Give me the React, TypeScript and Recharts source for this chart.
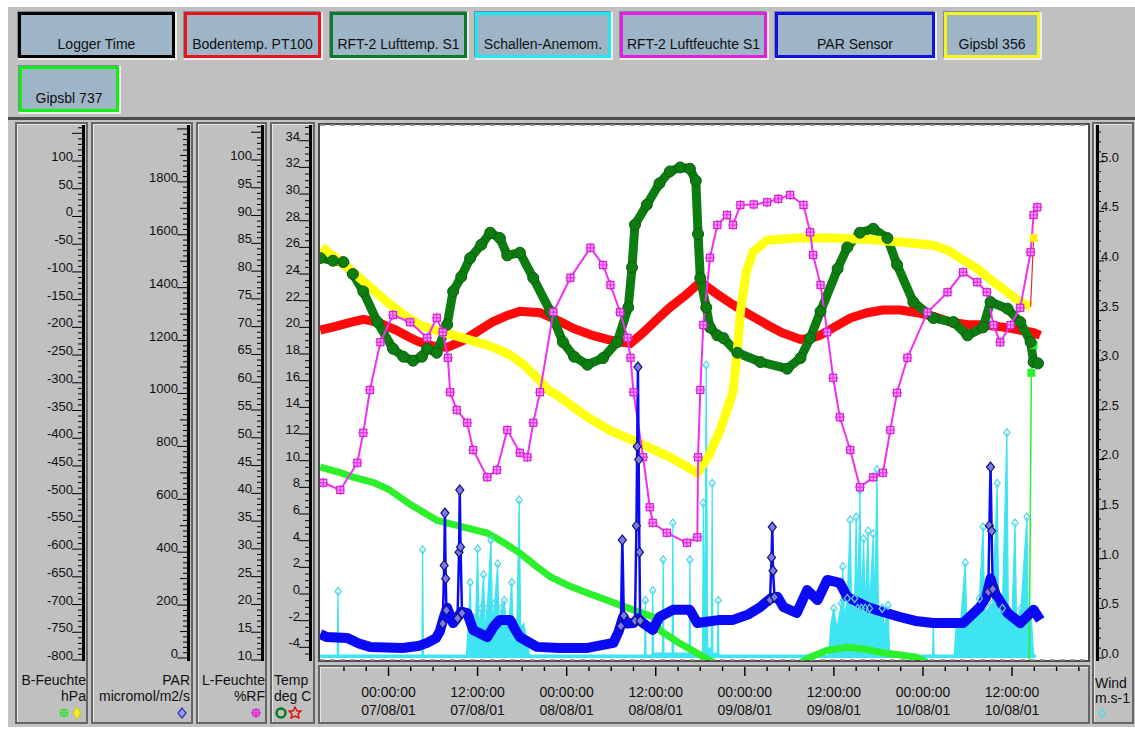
import React from 'react';
import { ComposedChart, Line, Area, XAxis, YAxis, CartesianGrid } from 'recharts';

const FONT = '"Liberation Sans", Arial, Helvetica, sans-serif';

type Pt = [number, number | null];

// x values are hours after 07/08/01 00:00:00
const xMajor = [0, 12, 24, 36, 48, 60, 72, 84];
const xTimes = ['00:00:00', '12:00:00', '00:00:00', '12:00:00', '00:00:00', '12:00:00', '00:00:00', '12:00:00'];
const xDates = ['07/08/01', '07/08/01', '08/08/01', '08/08/01', '09/08/01', '09/08/01', '10/08/01', '10/08/01'];

const bLabels = [100, 50, 0, -50, -100, -150, -200, -250, -300, -350, -400, -450, -500, -550, -600, -650, -700, -750, -800];
const parLabels = [0, 200, 400, 600, 800, 1000, 1200, 1400, 1600, 1800];
const rfLabels = [10, 15, 20, 25, 30, 35, 40, 45, 50, 55, 60, 65, 70, 75, 80, 85, 90, 95, 100];
const tempLabels = [-4, -2, 0, 2, 4, 6, 8, 10, 12, 14, 16, 18, 20, 22, 24, 26, 28, 30, 32, 34];
const windLabels = [0, 0.5, 1, 1.5, 2, 2.5, 3, 3.5, 4, 4.5, 5];

const buttons = [
  { label: 'Logger Time', color: '#000000' },
  { label: 'Bodentemp. PT100', color: '#e8141c' },
  { label: 'RFT-2 Lufttemp. S1', color: '#0a7a2a' },
  { label: 'Schallen-Anemom.', color: '#20e8f0' },
  { label: 'RFT-2 Luftfeuchte S1', color: '#e020e0' },
  { label: 'PAR Sensor', color: '#1010e0' },
  { label: 'Gipsbl 356', color: '#f4f420' },
  { label: 'Gipsbl 737', color: '#10f010' },
];

// Bodentemp. PT100, deg C
const bodenTemp: Pt[] = [
  [-9.2, 19.8], [-7, 20.1], [-5, 20.4], [-3.4, 20.6], [-1.5, 20.4], [1, 19.8], [3, 19.2], [4.2, 18.9], [6, 18.6],
  [7.9, 18.5], [10, 19.0], [12, 19.7], [14, 20.4], [16, 20.9], [17.7, 21.2], [20.4, 21.1], [22.5, 20.6], [25, 19.9],
  [27.5, 19.4], [29.5, 19.1], [31.2, 18.9], [32.6, 18.8], [34.3, 19.6], [35.6, 20.3], [37.9, 21.5], [40, 22.4],
  [41.6, 23.2], [42.3, 23.3], [44, 22.6], [46.4, 21.7], [48.5, 21.0], [51, 20.2], [53, 19.6], [55.5, 19.1], [57, 19.2],
  [58.1, 19.4], [60, 20.0], [62.2, 20.7], [64.5, 21.1], [66.6, 21.3], [69, 21.3], [71.2, 21.1], [73.5, 20.8],
  [75.7, 20.4], [78, 20.2], [80.1, 20.2], [83, 20.0], [85, 19.8], [86.9, 19.6], [87.8, 19.4],
];

// RFT-2 Lufttemp. S1, deg C
const luftTemp: Pt[] = [
  [-9.2, 25.2], [-7.5, 25.0], [-6.1, 24.9], [-4.8, 24.0], [-3.4, 22.7], [-1.5, 20.4], [0.6, 18.4], [2.0, 17.8],
  [3.3, 17.5], [4.5, 17.8], [5.2, 18.4], [6.5, 18.1], [7.9, 20.2], [8.7, 22.7], [9.8, 23.8], [11.0, 25.2], [12.5, 26.2],
  [13.7, 27.1], [15.0, 26.7], [16.0, 25.4], [17.7, 25.6], [19.5, 23.7], [21.8, 21.2], [23.5, 18.9], [25.0, 17.8],
  [26.8, 17.2], [28.9, 17.7], [30.8, 18.9], [32.3, 21.5], [32.8, 24.5], [33.2, 27.7], [34.8, 29.2], [36.5, 30.8],
  [37.9, 31.7], [39.3, 32.0], [40.6, 31.9], [41.4, 31.0], [41.7, 27.0], [42.0, 23.7], [42.8, 21.5], [43.3, 20.0],
  [44.3, 19.4], [45.1, 19.2], [47.0, 18.1], [50.1, 17.4], [53.7, 16.9], [55.5, 17.7], [56.8, 19.2], [58.2, 21.2],
  [60.5, 24.4], [61.8, 26.0], [63.5, 27.1], [65.3, 27.4], [67.2, 26.7], [68.5, 24.7], [70.7, 21.9], [73.4, 20.7],
  [76.1, 20.4], [78.0, 19.4], [80.1, 20.0], [81.1, 21.9], [83.4, 21.4], [85.1, 20.4], [86.5, 18.9], [86.9, 17.4],
  [87.5, 17.3],
];

// Gipsbl 356, hPa
const gipsbl356: Pt[] = [
  [-9.0, -55], [-6.8, -78], [-4.8, -100], [-2.5, -127], [-0.2, -154], [2, -177], [4.2, -196], [6.5, -206],
  [8.7, -214], [11, -223], [13.3, -232], [15, -241], [16.4, -250], [18.3, -268], [20, -291], [21.5, -313],
  [22.7, -322], [24.5, -340], [26.8, -362], [30, -387], [33.5, -407], [35.8, -421], [37.9, -434], [40, -450],
  [41.6, -463], [43.2, -430], [44.7, -385], [45.7, -345], [46.4, -317], [47.0, -240], [47.4, -172], [48.2, -100],
  [49.1, -64], [51, -43], [55, -39], [59.9, -39], [65, -42], [68.9, -46], [73.4, -52], [75.5, -62], [77, -75],
  [79.5, -96], [81.5, -118], [83.5, -138], [85.1, -154], [86.5, -163],
];
// last reading of Gipsbl 356, after the jump
const gipsbl356Tail: Pt[] = [[86.5, -163], [86.9, -39]];

// Gipsbl 737, hPa
const gipsbl737: Pt[] = [
  [-9.2, -452], [-6.5, -462], [-4.8, -470], [-2, -480], [0, -492], [3, -520], [6.5, -548], [10, -560], [13.3, -571],
  [15.5, -588], [17.7, -607], [19.8, -630], [21.8, -650], [24.3, -666], [26.8, -679], [29, -690], [31.2, -701],
  [33.5, -712], [35.6, -722], [36.5, -746], [39, -768], [42, -791], [44, -806], [48, -830], [53, -825], [55.5, -805],
  [56.8, -795], [59, -783], [61.8, -777], [64, -780], [66.5, -787], [69, -791], [71.1, -795], [73, -808], [78, -830],
  [86.3, -830],
];
// last readings of Gipsbl 737, after the jump
const gipsbl737Tail: Pt[] = [[86.3, -830], [86.6, -282], [86.9, -232]];

// RFT-2 Luftfeuchte S1, %RF
const luftFeuchte: Pt[] = [
  [-8.8, 41.9], [-6.5, 40.6], [-4.2, 45.5], [-3.4, 50.9], [-2.5, 58.6], [-1.1, 67.2], [0.6, 72.1], [2.9, 70.8],
  [5.2, 68.0], [6.5, 71.6], [7.3, 69.0], [8.0, 64.4], [8.3, 58.2], [9.2, 55.0], [10.6, 52.7], [11.4, 47.8],
  [13.3, 42.9], [14.6, 44.2], [16.0, 51.4], [17.7, 47.3], [18.7, 46.5], [19.5, 52.7], [20.4, 58.2], [22.2, 72.6],
  [24.5, 78.8], [27.2, 84.2], [28.9, 81.1], [29.9, 77.5], [31.2, 72.6], [32.2, 68.0], [32.6, 64.4], [33.0, 58.2],
  [34.3, 46.5], [35.2, 37.5], [35.6, 34.7], [37.5, 32.9], [40.2, 31.1], [41.6, 32.1], [41.7, 46.5], [42.0, 58.6],
  [42.4, 70.3], [43.3, 82.4], [44.3, 88.3], [45.6, 90.1], [46.4, 88.3], [47.4, 91.9], [49.2, 92.0], [51.0, 92.4],
  [52.5, 93.0], [54.1, 93.7], [55.9, 91.9], [56.8, 87.0], [57.2, 82.9], [58.2, 77.5], [59.1, 69.0], [59.9, 60.8],
  [60.8, 53.7], [62.2, 47.8], [63.5, 41.1], [65.3, 42.9], [66.6, 43.7], [67.6, 51.4], [68.5, 58.1], [69.9, 64.4],
  [72.6, 72.6], [75.3, 76.2], [77.4, 79.8], [79.3, 78.0], [80.6, 76.2], [81.5, 70.3], [82.4, 67.2], [83.8, 70.3],
  [85.1, 73.4], [86.5, 83.4], [86.9, 90.1], [87.4, 91.5],
];

// PAR Sensor, micromol/m2/s (slowly varying part)
const parBand: Pt[] = [
  [-9.2, 90], [-8.3, 79], [-5.6, 76], [-4, 55], [-2.5, 42], [1.9, 38], [4, 45], [5.2, 57], [6.4, 75], [6.9, 100],
  [7.4, 150], [7.9, 190], [8.7, 132], [9.2, 150], [9.8, 175], [10.6, 170], [11.4, 106], [13.3, 79], [14.2, 120],
  [15, 144], [16.4, 144], [17.0, 110], [17.7, 79], [20, 42], [23, 38], [26.8, 38], [30.3, 57], [31.0, 100],
  [31.6, 155], [32.2, 130], [33, 132], [33.6, 150], [34.3, 132], [35.6, 106], [36.5, 155], [38.3, 182], [40.6, 182],
  [41.6, 132], [44.7, 144], [46.4, 144], [48.5, 165], [50.1, 193], [50.8, 210], [51.5, 225], [52.4, 231],
  [53.2, 193], [55, 170], [56.4, 257], [57.8, 219], [59.1, 295], [60.8, 284], [61.8, 231], [64.5, 193], [66.5, 175],
  [68.9, 155], [71, 140], [73.4, 132], [77.4, 132], [79.7, 193], [80.5, 230], [81.1, 300], [81.8, 240], [83.4, 170],
  [85.1, 132], [86.9, 182], [87.8, 144],
];

// PAR Sensor, short peaks
const parSpikes: Pt[] = [
  [7.3, 130], [7.5, 350], [7.6, 548], [7.7, 300], [7.8, 180], [7.85, null],
  [9.3, 150], [9.5, 400], [9.6, 635], [9.7, 420], [9.9, 170], [9.95, null],
  [31.3, 120], [31.5, 446], [31.7, 160], [31.75, null],
  [33.2, 140], [33.4, 500], [33.5, 800], [33.6, 1100], [33.7, 750], [33.8, 400], [33.9, 140], [33.95, null],
  [51.4, 220], [51.6, 380], [51.7, 495], [51.8, 330], [52.0, 230], [52.05, null],
  [80.8, 250], [80.95, 500], [81.1, 722], [81.25, 480], [81.4, 260],
];

// Schallen-Anemom., m/s
const anemom: Pt[] = [
  [-9.2, 0.03], [-6.9, 0.03], [-6.8, 0.67], [-6.7, 0.03], [4.5, 0.03], [4.6, 1.09], [4.7, 0.03],
  [10.5, 0.03], [10.8, 0.4], [11.0, 0.76], [11.2, 0.25], [11.5, 0.45], [11.7, 0.3], [12.0, 1.1], [12.2, 0.3],
  [12.5, 0.5], [12.8, 0.84], [13.0, 0.3], [13.3, 0.5], [13.8, 1.19], [14.0, 0.35], [14.3, 0.55], [14.7, 0.95],
  [14.9, 0.3], [15.2, 0.5], [15.6, 0.58], [15.9, 0.3], [16.3, 0.45], [16.6, 0.76], [16.8, 0.25], [17.3, 0.4],
  [17.6, 1.59], [17.8, 0.3], [18.2, 0.35], [18.6, 0.2], [19.0, 0.03],
  [34.5, 0.03], [34.6, 0.58], [34.7, 0.03], [35.5, 0.03], [35.6, 0.68], [35.7, 0.05], [36.9, 0.05], [37.0, 0.99],
  [37.1, 0.05], [38.2, 0.05], [38.3, 1.36], [38.4, 0.05], [40.5, 0.05], [40.6, 0.99], [40.7, 0.05], [42.3, 0.05],
  [42.4, 1.56], [42.6, 0.2], [42.8, 2.95], [43.0, 0.1], [43.5, 0.1], [43.6, 1.76], [43.7, 0.05], [44.3, 0.05],
  [44.4, 0.58], [44.5, 0.03],
  [59.3, 0.03], [59.6, 0.35], [60.0, 0.5], [60.4, 0.3], [61.0, 0.55], [61.2, 0.92], [61.4, 0.4], [61.8, 0.6],
  [62.2, 1.39], [62.4, 0.45], [62.8, 0.6], [63.0, 1.42], [63.2, 0.5], [63.5, 1.69], [63.7, 0.5], [64.0, 1.2],
  [64.2, 0.5], [64.6, 1.28], [64.8, 0.5], [65.3, 1.25], [65.5, 0.45], [65.8, 1.9], [66.0, 0.4], [66.5, 0.5],
  [66.8, 0.3], [67.3, 0.53], [67.5, 0.03],
  [73.3, 0.03], [73.4, 0.38], [73.5, 0.03],
  [76.2, 0.03], [76.5, 0.35], [77.0, 0.3], [77.7, 0.96], [77.9, 0.35], [78.5, 0.45], [79.0, 0.4], [79.6, 0.6],
  [80.1, 1.32], [80.3, 0.45], [80.8, 0.5], [81.4, 0.55], [82.0, 1.76], [82.2, 0.45], [82.7, 0.5], [83.3, 2.27],
  [83.5, 0.4], [84.0, 0.45], [84.4, 1.36], [84.6, 0.4], [85.2, 0.5], [86.0, 1.42], [86.2, 0.3], [86.6, 0.4],
  [86.9, 0.03], [87.2, 0.03],
];

const rows = (pts: Pt[]) => pts.map(([h, v]) => ({ h, v }));

const range = (a: number, b: number, s: number) => {
  const out: number[] = [];
  for (let i = 0; a + i * s <= b + 1e-9; i++) out.push(Math.round((a + i * s) * 1000) / 1000);
  return out;
};
const isStep = (v: number, s: number) => Math.abs(v / s - Math.round(v / s)) < 1e-6;

const leftTick = (axisX: number, major: number, labels: number[], medium?: number) => (p: any) => {
  const v = p.payload.value;
  const lab = labels.some((l) => Math.abs(l - v) < 1e-6);
  const len = isStep(v, major) ? 10 : medium && isStep(v, medium) ? 7 : 4;
  return (
    <g key={`lt-${axisX}-${p.index}`}>
      <line x1={axisX - len} x2={axisX + 1} y1={p.y} y2={p.y} stroke="#000" strokeWidth={1} />
      {lab && (
        <text x={axisX - 9} y={p.y} textAnchor="end" fontSize={13} fontFamily={FONT} fill="#111">
          {v}
        </text>
      )}
    </g>
  );
};

const windTick = (p: any) => {
  const v = p.payload.value;
  const lab = windLabels.some((l) => Math.abs(l - v) < 1e-6);
  const ax = 1098;
  return (
    <g key={`wt-${p.index}`}>
      <line x1={ax} x2={ax + (lab ? 6 : 3)} y1={p.y} y2={p.y} stroke="#000" strokeWidth={1} />
      {lab && (
        <text x={ax + 3} y={p.y} textAnchor="start" fontSize={13} fontFamily={FONT} fill="#111">
          {v.toFixed(1)}
        </text>
      )}
    </g>
  );
};

const xTick = (p: any) => {
  const v = p.payload.value;
  const mi = xMajor.indexOf(v);
  const top = 667;
  return (
    <g key={`xt-${p.index}`}>
      <line x1={p.x} x2={p.x} y1={top} y2={top + (mi >= 0 ? 9 : 4)} stroke="#000" strokeWidth={1.4} />
      {mi >= 0 && (
        <text x={p.x} y={697} textAnchor="middle" fontSize={14} fontFamily={FONT} fill="#111">
          {xTimes[mi]}
        </text>
      )}
      {mi >= 0 && (
        <text x={p.x} y={715} textAnchor="middle" fontSize={14} fontFamily={FONT} fill="#111">
          {xDates[mi]}
        </text>
      )}
    </g>
  );
};

const greenDot = (p: any) =>
  p.cy == null ? <g key={`gd-${p.index}`} /> : (
    <circle key={`gd-${p.index}`} cx={p.cx} cy={p.cy} r={5.5} fill="#0d7d12" stroke="#0a5e0e" strokeWidth={1} />
  );

const starDot = (p: any) => {
  if (p.cy == null) return <g key={`sd-${p.index}`} />;
  const { cx, cy } = p;
  return (
    <g key={`sd-${p.index}`}>
      <rect x={cx - 3.5} y={cy - 3.5} width={7} height={7} fill="#ff9cff" stroke="#d21ad2" strokeWidth={1.2} />
      <path d={`M${cx - 5},${cy}L${cx + 5},${cy}M${cx},${cy - 5}L${cx},${cy + 5}`} stroke="#e030e0" strokeWidth={1.2} />
    </g>
  );
};

const diamondDot = (p: any) => {
  if (p.cy == null || p.payload.v == null) return <g key={`dd-${p.index}`} />;
  const { cx, cy } = p;
  return (
    <path key={`dd-${p.index}`} d={`M${cx},${cy - 5}L${cx + 4},${cy}L${cx},${cy + 5}L${cx - 4},${cy}Z`}
      fill="#7a7ae8" stroke="#12127a" strokeWidth={1.2} />
  );
};

const windDot = (p: any) => {
  if (p.cy == null || p.payload.v < 0.5) return <g key={`wd-${p.index}`} />;
  const { cx, cy } = p;
  return (
    <path key={`wd-${p.index}`} d={`M${cx},${cy - 4}L${cx + 3},${cy}L${cx},${cy + 4}L${cx - 3},${cy}Z`}
      fill="none" stroke="#56d6e6" strokeWidth={1.3} />
  );
};

const endDot = (color: string) => (p: any) =>
  p.index === 0 || p.cy == null ? <g key={`ed-${color}-${p.index}`} /> : (
    <rect key={`ed-${color}-${p.index}`} x={p.cx - 4} y={p.cy - 4} width={8} height={8} fill={color} />
  );

const box = (left: number, top: number, width: number, height: number, extra: React.CSSProperties = {}): React.CSSProperties => ({
  position: 'absolute', left, top, width, height, boxSizing: 'border-box', ...extra,
});

const colStyle = (left: number, width: number) =>
  box(left, 122, width, 602, { background: '#c0c0c0', border: '2px solid #666', boxShadow: 'inset 1px 1px 0 #e6e6e6' });

const unitText = (left: number, top: number, width: number, align: 'left' | 'right', text: string) => (
  <div style={{ ...box(left, top, width, 16), textAlign: align, fontSize: 14, lineHeight: '16px', color: '#111', whiteSpace: 'nowrap' }}>
    {text}
  </div>
);

export default function App() {
  const btnPos = [
    [18, 12, 157], [184, 12, 137], [330, 12, 137], [475, 12, 136], [620, 12, 147], [775, 12, 160], [944, 12, 96], [19, 66, 100],
  ];
  return (
    <div style={{ position: 'absolute', left: 0, top: 0, width: 1135, height: 729, overflow: 'hidden', background: '#fff', fontFamily: FONT }}>
      <div style={box(8, 7, 1127, 110, { background: '#c0c0c0' })} />
      <div style={box(8, 117, 1127, 3, { background: '#4d4d4d' })} />
      <div style={box(8, 120, 1127, 607, { background: '#c3c3c3' })} />

      {buttons.map((b, i) => (
        <div
          key={b.label}
          style={{
            ...box(btnPos[i][0], btnPos[i][1], btnPos[i][2], 46),
            background: '#9db5c7',
            border: `3px solid ${b.color}`,
            boxShadow: '1px 1px 0 1px #ececec, -1px -1px 0 0 #7a8a96',
            display: 'flex', alignItems: 'flex-end', justifyContent: 'center',
            paddingBottom: 3, fontSize: 14, lineHeight: '16px', color: '#111', whiteSpace: 'nowrap',
          }}
        >
          {b.label}
        </div>
      ))}

      <div style={colStyle(15, 73)} />
      <div style={colStyle(91, 102)} />
      <div style={colStyle(196, 71)} />
      <div style={colStyle(270, 45)} />
      <div style={colStyle(1092, 42)} />
      <div style={box(318, 123, 772, 539, { background: '#fff', border: '2px solid #4a4a4a' })} />
      <div style={box(318, 665, 772, 59, { background: '#c0c0c0', border: '2px solid #666', boxShadow: 'inset 1px 1px 0 #e6e6e6' })} />

      {[82, 187, 261, 309, 1096].map((x) => (
        <div key={x} style={box(x, 125, 3, 536, { background: '#000' })} />
      ))}

      {unitText(15, 672, 71, 'right', 'B-Feuchte')}
      {unitText(15, 688, 71, 'right', 'hPa')}
      {unitText(91, 672, 99, 'right', 'PAR')}
      {unitText(91, 688, 99, 'right', 'micromol/m2/s')}
      {unitText(196, 672, 69, 'right', 'L-Feuchte')}
      {unitText(196, 688, 69, 'right', '%RF')}
      {unitText(274, 672, 40, 'left', 'Temp')}
      {unitText(274, 688, 40, 'left', 'deg C')}
      {unitText(1095, 675, 40, 'left', 'Wind')}
      {unitText(1095, 690, 40, 'left', 'm.s-1')}

      <svg style={{ position: 'absolute', left: 0, top: 705 }} width={1135} height={16}>
        <g transform="translate(64,8)">
          <rect x={-3} y={-3} width={6} height={6} fill="none" stroke="#22e622" strokeWidth={1.2} />
          <path d="M-5,0L5,0M0,-5L0,5" stroke="#22e622" strokeWidth={1.2} />
        </g>
        <path d="M77,2L81,8L77,14L73,8Z" fill="#f0f020" stroke="#d8c800" />
        <path d="M182,3L186,8L182,13L178,8Z" fill="#9a9af0" stroke="#2020c0" strokeWidth={1.2} />
        <g transform="translate(256,8)">
          <rect x={-3} y={-3} width={6} height={6} fill="#ff80ff" stroke="#d020d0" strokeWidth={1.2} />
          <path d="M-5,0L5,0M0,-5L0,5" stroke="#d020d0" strokeWidth={1.2} />
        </g>
        <circle cx={281} cy={8} r={4.5} fill="none" stroke="#0a7a1a" strokeWidth={2.5} />
        <path d="M295,2L297,6L301,6L298,9L299,13L295,11L291,13L292,9L289,6L293,6Z" fill="none" stroke="#e01010" strokeWidth={1.4} />
        <path d="M1102,3L1105,8L1102,13L1099,8Z" fill="none" stroke="#50d8e8" strokeWidth={1.4} />
      </svg>

      <div style={{ position: 'absolute', left: 0, top: 0 }}>
        <ComposedChart width={1135} height={729} margin={{ top: 125, right: 0, bottom: 0, left: 0 }}>
          <XAxis
            type="number" dataKey="h" domain={[-9.23, 94.23]} allowDataOverflow height={69}
            ticks={range(-6, 93, 3)} interval={0} tick={xTick} tickLine={false} axisLine={false}
          />
          <YAxis yAxisId="temp" type="number" domain={[-4.95, 35.18]} allowDataOverflow width={50}
            ticks={range(-4.5, 35, 0.5)} interval={0} tick={leftTick(309, 2, tempLabels)} tickLine={false} axisLine={false} />
          <YAxis yAxisId="rf" type="number" domain={[10, 106.3]} allowDataOverflow width={74}
            ticks={range(10, 106, 1)} interval={0} tick={leftTick(261, 5, rfLabels)} tickLine={false} axisLine={false} />
          <YAxis yAxisId="par" type="number" domain={[-7.6, 2015]} allowDataOverflow width={103}
            ticks={range(0, 2000, 20)} interval={0} tick={leftTick(187, 200, parLabels, 100)} tickLine={false} axisLine={false} />
          <YAxis yAxisId="hpa" type="number" domain={[-800, 165]} allowDataOverflow width={93}
            ticks={range(-800, 160, 10)} interval={0} tick={leftTick(82, 50, bLabels)} tickLine={false} axisLine={false} />
          <YAxis yAxisId="grid" type="number" domain={[-4.95, 35.18]} allowDataOverflow width={0}
            ticks={tempLabels} interval={0} tick={false} tickLine={false} axisLine={false} />
          <YAxis yAxisId="wind" orientation="right" type="number" domain={[-0.02, 5.37]} allowDataOverflow width={47}
            ticks={range(0, 5.3, 0.1)} interval={0} tick={windTick} tickLine={false} axisLine={false} />

          <CartesianGrid yAxisId="grid" vertical={false} stroke="#8a8a8a" strokeWidth={1.4} strokeDasharray="5 5" />

          <Area yAxisId="wind" data={rows(anemom)} dataKey="v" type="linear" stroke="#3fe4f2" strokeWidth={1.2}
            fill="#3fe4f2" fillOpacity={1} dot={windDot} activeDot={false} isAnimationActive={false} />
          <Line yAxisId="hpa" data={rows(gipsbl737)} dataKey="v" type="linear" stroke="#2cf02c" strokeWidth={7}
            dot={false} activeDot={false} isAnimationActive={false} />
          <Line yAxisId="hpa" data={rows(gipsbl737Tail)} dataKey="v" type="linear" stroke="#2cf02c" strokeWidth={1.5}
            dot={endDot('#2cf02c')} activeDot={false} isAnimationActive={false} />
          <Line yAxisId="temp" data={rows(bodenTemp)} dataKey="v" type="linear" stroke="#ff0a0a" strokeWidth={9}
            dot={false} activeDot={false} isAnimationActive={false} />
          <Line yAxisId="temp" data={rows(luftTemp)} dataKey="v" type="linear" stroke="#0d7d12" strokeWidth={9}
            strokeLinejoin="round" dot={greenDot} activeDot={false} isAnimationActive={false} />
          <Line yAxisId="hpa" data={rows(gipsbl356)} dataKey="v" type="linear" stroke="#ffff10" strokeWidth={9}
            strokeLinejoin="round" dot={false} activeDot={false} isAnimationActive={false} />
          <Line yAxisId="hpa" data={rows(gipsbl356Tail)} dataKey="v" type="linear" stroke="#e03030" strokeWidth={1.2}
            dot={endDot('#ffee10')} activeDot={false} isAnimationActive={false} />
          <Line yAxisId="rf" data={rows(luftFeuchte)} dataKey="v" type="linear" stroke="#f030f0" strokeWidth={2}
            dot={starDot} activeDot={false} isAnimationActive={false} />
          <Line yAxisId="par" data={rows(parBand)} dataKey="v" type="linear" stroke="#0a0af5" strokeWidth={10}
            strokeLinejoin="round" dot={false} activeDot={false} isAnimationActive={false} />
          <Line yAxisId="par" data={rows(parSpikes)} dataKey="v" type="linear" stroke="#0a0af5" strokeWidth={2.5}
            connectNulls={false} dot={diamondDot} activeDot={false} isAnimationActive={false} />
        </ComposedChart>
      </div>
    </div>
  );
}
